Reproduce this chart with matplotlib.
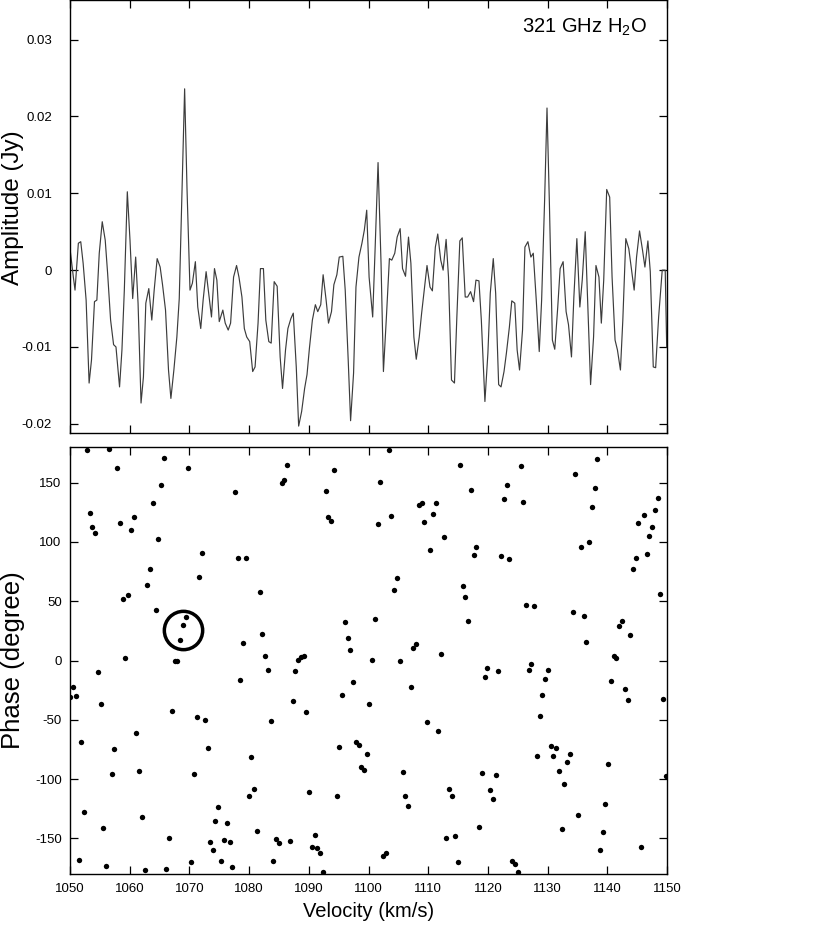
import matplotlib
matplotlib.use("Agg")
import matplotlib.pyplot as plt

plt.rcParams['font.family'] = ['Liberation Sans', 'DejaVu Sans']
plt.rcParams['axes.unicode_minus'] = False

# ---------------- data ----------------
spec_velocity = [
    1050.0, 1050.56, 1050.84, 1051.4, 1051.8, 1052.2, 1052.7, 1053.2, 1053.6, 1054.1,
    1054.5, 1054.9, 1055.4, 1055.9, 1056.3, 1056.8, 1057.3, 1057.7, 1058.3, 1058.7,
    1059.1, 1059.6, 1060.05, 1060.5, 1061.0, 1061.4, 1061.9, 1062.3, 1062.7, 1063.2,
    1063.7, 1064.1, 1064.6, 1065.1, 1065.5, 1066.0, 1066.5, 1066.9, 1067.4, 1067.9,
    1068.3, 1068.7, 1069.2, 1069.6, 1070.1, 1070.5, 1071.0, 1071.4, 1071.9, 1072.3,
    1072.8, 1073.3, 1073.7, 1074.2, 1074.6, 1075.0,
    1075.6, 1076.0, 1076.5, 1076.9, 1077.4, 1077.9, 1078.3, 1078.8, 1079.2, 1079.6,
    1080.1, 1080.6, 1081.0, 1081.5, 1081.9, 1082.4, 1082.8, 1083.3, 1083.7, 1084.2,
    1084.7, 1085.2, 1085.6, 1086.1, 1086.5, 1087.0, 1087.4, 1087.9, 1088.3, 1088.8,
    1089.3, 1089.7, 1090.1, 1090.6, 1091.1, 1091.5, 1092.0, 1092.4, 1092.9, 1093.3,
    1093.8, 1094.2, 1094.7, 1095.1, 1095.7, 1096.1, 1096.6, 1097.0, 1097.5, 1097.9,
    1098.4, 1098.9, 1099.3, 1099.7, 1100.1,
    1100.7, 1101.1, 1101.6, 1102.1, 1102.5, 1103.0, 1103.5, 1103.9, 1104.4, 1104.8,
    1105.3, 1105.7, 1106.2, 1106.7, 1107.1, 1107.6, 1108.0, 1108.5, 1108.9, 1109.4,
    1109.8, 1110.3, 1110.7, 1111.2, 1111.6, 1112.1, 1112.5, 1113.0, 1113.4, 1113.9,
    1114.4, 1114.8, 1115.3, 1115.7, 1116.2, 1116.6, 1117.1, 1117.6, 1118.0, 1118.5,
    1118.9, 1119.5, 1120.0, 1120.4, 1120.9, 1121.3, 1121.8, 1122.2, 1122.7, 1123.1,
    1123.6, 1124.0, 1124.5, 1124.9, 1125.3,
    1125.8, 1126.2, 1126.7, 1127.2, 1127.6, 1128.1, 1128.6, 1129.0, 1129.5, 1129.9,
    1130.3, 1130.8, 1131.2, 1131.7, 1132.1, 1132.6, 1133.1, 1133.5, 1134.0, 1134.4,
    1134.9, 1135.4, 1135.8, 1136.3, 1136.7, 1137.2, 1137.7, 1138.1, 1138.6, 1139.0,
    1139.4, 1139.9, 1140.4, 1140.8, 1141.3, 1141.7, 1142.2, 1142.6, 1143.1, 1143.6,
    1144.0, 1144.5, 1144.9, 1145.4, 1145.9, 1146.3, 1146.8, 1147.2, 1147.7, 1148.1,
    1148.6, 1149.2, 1149.7, 1149.95,
]
spec_amplitude = [
    0.0028, -0.0009, -0.0026, 0.0035, 0.0037, 0.0009, -0.0039, -0.0147, -0.0117, -0.0041,
    -0.0039, 0.0022, 0.0063, 0.0039, -0.0004, -0.0065, -0.0097, -0.0100, -0.0152, -0.0104,
    -0.0026, 0.0102, 0.0039, -0.0037, 0.0017, -0.0043, -0.0173, -0.0139, -0.0043, -0.0024,
    -0.0065, -0.0026, 0.0015, 0.0004, -0.0019, -0.0052, -0.0130, -0.0167, -0.0130, -0.0087,
    -0.0037, 0.0082, 0.0236, 0.0106, -0.0026, -0.0017, 0.0011, -0.0048, -0.0076, -0.0039,
    -0.0002, -0.0035, -0.0061, 0.0002, -0.0013, -0.0067,
    -0.0052, -0.0069, -0.0078, -0.0069, -0.0009, 0.0006, -0.0009, -0.0035, -0.0076, -0.0087,
    -0.0093, -0.0132, -0.0126, -0.0069, 0.0002, 0.0002, -0.0065, -0.0093, -0.0095, -0.0015,
    -0.0021, -0.0113, -0.0154, -0.0104, -0.0076, -0.0063, -0.0056, -0.0126, -0.0203, -0.0184,
    -0.0154, -0.0136, -0.0102, -0.0065, -0.0045, -0.0054, -0.0045, -0.0006, -0.0039, -0.0069,
    -0.0054, -0.0019, -0.0006, 0.0017, 0.0018, -0.0026, -0.0117, -0.0196, -0.0134, -0.0022,
    0.0017, 0.0035, 0.0052, 0.0078, -0.0009,
    -0.0061, 0.0026, 0.0140, 0.0009, -0.0132, -0.0061, 0.0015, 0.0013, 0.0022, 0.0043,
    0.0054, 0.0002, -0.0008, 0.0043, 0.0009, -0.0087, -0.0116, -0.0087, -0.0056, -0.0022,
    0.0006, -0.0022, -0.0027, 0.0030, 0.0047, 0.0013, 0.0000, 0.0040, -0.0009, -0.0143,
    -0.0147, -0.0061, 0.0038, 0.0042, -0.0035, -0.0035, -0.0028, -0.0041, -0.0013, -0.0014,
    -0.0065, -0.0171, -0.0108, -0.0030, 0.0015, -0.0030, -0.0149, -0.0152, -0.0132, -0.0108,
    -0.0074, -0.0040, -0.0043, -0.0104, -0.0130,
    -0.0078, 0.0030, 0.0037, 0.0017, 0.0022, -0.0039, -0.0106, -0.0039, 0.0091, 0.0211,
    0.0087, -0.0091, -0.0103, -0.0048, 0.0002, 0.0011, -0.0054, -0.0071, -0.0113, -0.0035,
    0.0041, -0.0048, -0.0013, 0.0050, -0.0039, -0.0149, -0.0087, 0.0006, -0.0009, -0.0069,
    -0.0013, 0.0105, 0.0095, -0.0009, -0.0091, -0.0104, -0.0130, -0.0065, 0.0041, 0.0028,
    0.0004, -0.0026, 0.0017, 0.0051, 0.0026, 0.0004, 0.0038, -0.0002, -0.0126, -0.0127,
    -0.0061, 0.0000, 0.0000, -0.0100,
]

phase_velocity = [
    1052.79, 1056.53, 1057.93, 1065.75, 1069.82, 1065.24, 1063.90, 1053.35, 1058.38, 1060.66,
    1053.74, 1054.24, 1060.16, 1064.80, 1072.17, 1063.35, 1071.66, 1062.95, 1058.82, 1059.77,
    1064.35, 1069.38, 1068.93, 1068.43, 1059.27, 1067.59, 1067.98, 1054.75, 1050.56, 1050.06,
    1051.00, 1055.14, 1067.09, 1071.22, 1072.56, 1051.90, 1061.11, 1057.43, 1073.06, 1056.98,
    1061.56, 1070.77, 1052.40, 1074.79, 1062.06, 1074.34, 1055.58, 1066.64, 1073.51, 1073.95,
    1051.51, 1056.09, 1062.51, 1066.14, 1070.32,
    1075.80, 1076.75, 1075.35, 1077.19, 1076.30, 1077.64, 1078.14, 1079.48, 1081.77, 1086.40,
    1085.85, 1085.46, 1094.17, 1092.83, 1093.27, 1093.72, 1082.22, 1079.03, 1082.72, 1083.17,
    1078.53, 1088.19, 1088.64, 1089.14, 1087.74, 1087.30, 1089.59, 1083.61, 1096.06, 1096.51,
    1096.96, 1097.40, 1095.56, 1100.14, 1095.11, 1097.85, 1098.35, 1099.69, 1098.74, 1099.25,
    1080.37, 1079.93, 1080.88, 1090.03, 1094.67, 1081.32, 1084.56, 1085.01, 1086.85, 1090.98,
    1090.54, 1091.43, 1091.93, 1084.06, 1092.32,
    1103.43, 1115.27, 1101.98, 1123.14, 1117.17, 1122.70, 1108.40, 1108.91, 1111.25, 1103.77,
    1110.75, 1101.59, 1109.35, 1112.59, 1118.06, 1110.25, 1117.62, 1122.19, 1123.59, 1104.77,
    1104.27, 1115.77, 1116.22, 1101.09, 1116.72, 1107.51, 1108.01, 1100.64, 1105.22, 1112.09,
    1119.90, 1119.46, 1121.75, 1107.06, 1109.80, 1111.64, 1105.72, 1119.01, 1121.30, 1106.11,
    1106.62, 1113.48, 1113.93, 1120.41, 1120.80, 1118.56, 1112.98, 1114.43, 1102.48, 1102.93,
    1114.94, 1124.04, 1124.48, 1124.99,
    1125.49, 1125.93, 1138.33, 1134.65, 1137.88, 1137.38, 1148.44, 1147.93, 1146.15, 1145.20,
    1147.54, 1147.04, 1135.54, 1136.93, 1146.59, 1144.75, 1144.30, 1148.88, 1126.38, 1127.72,
    1134.20, 1136.04, 1142.02, 1142.46, 1143.86, 1136.49, 1141.07, 1141.51, 1127.27, 1126.83,
    1130.07, 1129.62, 1140.62, 1142.96, 1143.41, 1149.39, 1129.12, 1128.67, 1130.51, 1131.41,
    1128.22, 1130.96, 1133.75, 1133.25, 1140.12, 1131.91, 1132.80, 1149.83, 1139.67, 1135.15,
    1132.36, 1139.28, 1138.78, 1145.70,
]
phase_degree = [
    177.2, 178.6, 162.6, 171.0, 162.3, 148.0, 132.8, 124.1, 116.2, 121.2,
    112.2, 107.7, 110.0, 102.4, 90.6, 77.1, 70.0, 63.9, 52.0, 55.4,
    42.8, 36.6, 30.1, 17.7, 2.0, -0.6, -0.8, -9.3, -22.5, -30.7,
    -29.8, -36.8, -42.2, -47.3, -50.1, -68.4, -61.3, -74.5, -73.7, -95.6,
    -92.8, -95.4, -127.7, -123.8, -132.2, -135.0, -141.5, -149.4, -153.0, -160.1,
    -168.2, -173.3, -176.4, -176.1, -169.6,
    -151.3, -153.3, -169.3, -174.1, -137.3, 142.1, 86.4, 86.4, 57.7, 165.1,
    152.5, 149.4, 160.3, 142.9, 121.0, 117.6, 22.5, 14.6, 3.7, -7.9,
    -16.6, 0.8, 2.8, 4.2, -9.0, -34.3, -43.0, -50.6, 32.6, 18.8,
    8.7, -18.0, -29.3, -36.6, -73.1, -68.4, -71.2, -78.8, -90.0, -92.3,
    -81.0, -113.9, -108.3, -110.8, -113.9, -143.5, -150.5, -154.1, -151.9, -147.4,
    -157.2, -158.1, -162.0, -168.8, -178.3,
    177.2, 165.1, 150.2, 147.7, 143.7, 135.9, 130.8, 133.1, 133.1, 121.5,
    123.8, 115.0, 117.0, 104.4, 95.6, 93.4, 88.9, 88.0, 85.2, 69.8,
    59.6, 63.0, 53.4, 35.2, 33.2, 10.4, 14.1, 0.6, -0.3, 5.9,
    -6.2, -14.1, -8.7, -22.5, -52.0, -59.6, -93.7, -94.5, -96.2, -114.2,
    -122.9, -108.0, -113.9, -109.1, -116.7, -140.1, -149.9, -148.0, -164.6, -162.6,
    -170.2, -169.3, -171.6, -178.1,
    163.7, 133.9, 169.9, 157.5, 145.7, 129.4, 136.7, 126.9, 122.9, 116.2,
    112.2, 104.6, 95.9, 99.9, 89.5, 86.4, 77.4, 56.3, 47.0, 45.9,
    40.5, 37.7, 29.5, 32.9, 21.4, 15.5, 4.2, 2.0, -3.1, -8.2,
    -7.6, -15.8, -16.9, -24.2, -33.5, -32.3, -29.3, -46.7, -72.0, -73.4,
    -80.5, -80.5, -78.5, -85.2, -87.2, -93.1, -104.4, -97.3, -121.0, -130.2,
    -142.3, -144.3, -159.5, -157.5,
]

highlight_velocity = 1069.0
highlight_phase = 25.7

x_ticks = [1050, 1060, 1070, 1080, 1090, 1100, 1110, 1120, 1130, 1140, 1150]
x_tick_labels = ['1050', '1060', '1070', '1080', '1090', '1100', '1110', '1120', '1130', '1140', '1150']
amp_ticks = [-0.02, -0.01, 0.0, 0.01, 0.02, 0.03]
amp_tick_labels = ['-0.02', '-0.01', '0', '0.01', '0.02', '0.03']
phase_ticks = [-150, -100, -50, 0, 50, 100, 150]
phase_tick_labels = ['-150', '-100', '-50', '0', '50', '100', '150']

line_label = r'321 GHz H$_\mathregular{2}$O'

# ---------------- figure ----------------
W, H = 830, 931
fig = plt.figure(figsize=(W / 100, H / 100), dpi=100)

left = 70 / W
width = 597 / W
ax1 = fig.add_axes([left, 1 - 433 / H, width, 433 / H - 0.0005])
ax2 = fig.add_axes([left, 1 - 874 / H, width, (874 - 447) / H])

for ax in (ax1, ax2):
    for s in ax.spines.values():
        s.set_linewidth(1.0)
    ax.tick_params(direction='in', top=True, right=True, length=6, width=0.9,
                   labelsize=9.5, colors='black')
    ax.set_xlim(1050, 1150)
    ax.set_xticks(x_ticks)

# top panel
ax1.plot(spec_velocity, spec_amplitude, color='#3c3c3c', lw=0.85)
ax1.set_ylim(-0.0212, 0.0351)
ax1.set_yticks(amp_ticks)
ax1.set_yticklabels(amp_tick_labels)
ax1.tick_params(axis='y', pad=13)
ax1.tick_params(axis='x', labelbottom=False)
ax1.set_ylabel('Amplitude (Jy)', fontsize=17.5, va='center')
ax1.yaxis.set_label_coords((13 - 70) / 597, 0.52)
ax1.text((647 - 70) / 597, 1 - 32 / 433, line_label, transform=ax1.transAxes,
         ha='right', va='baseline', fontsize=14.5)

# bottom panel
ax2.scatter(phase_velocity, phase_degree, s=15, color='black', linewidths=0, zorder=3)
ax2.plot([highlight_velocity], [highlight_phase], marker='o', ms=27.6, mfc='none',
         mec='black', mew=2.5, zorder=4)
ax2.set_ylim(-180, 180)
ax2.set_yticks(phase_ticks)
ax2.set_yticklabels(phase_tick_labels)
ax2.set_xticklabels(x_tick_labels)
ax2.tick_params(axis='y', pad=6)
ax2.tick_params(axis='x', pad=6.5)
ax2.set_ylabel('Phase (degree)', fontsize=18.5, va='center')
ax2.yaxis.set_label_coords((13 - 70) / 597, 0.5)
ax2.set_xlabel('Velocity (km/s)', fontsize=14.5, labelpad=5)

fig.savefig('out.png', dpi=100)
